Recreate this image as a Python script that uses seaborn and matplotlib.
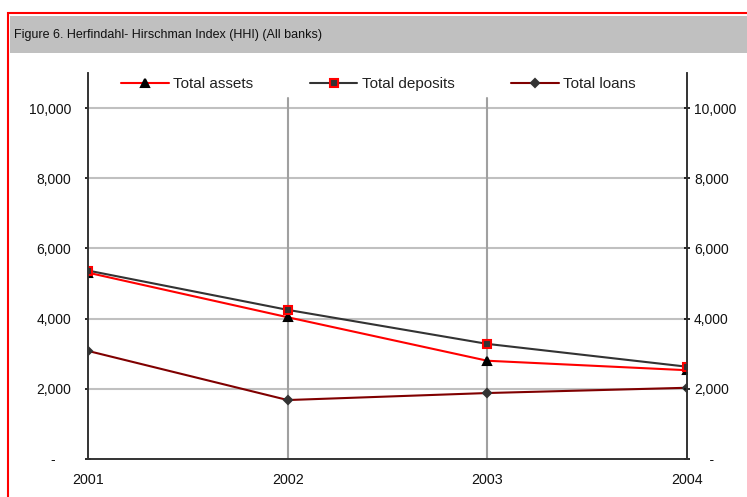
import matplotlib
matplotlib.use("Agg")
import matplotlib.pyplot as plt
from matplotlib.patches import Rectangle
from matplotlib.lines import Line2D
from matplotlib.ticker import FuncFormatter
import seaborn as sns

years = [2001, 2002, 2003, 2004]
total_assets = [5310, 4040, 2800, 2530]
total_deposits = [5370, 4250, 3280, 2630]
total_loans = [3080, 1680, 1880, 2030]
y_ticks = [0, 2000, 4000, 6000, 8000, 10000]

sns.set_theme(style="white")
plt.rcParams["font.family"] = ["Liberation Sans", "DejaVu Sans"]

fig = plt.figure(figsize=(7.47, 4.97), dpi=100)
W, H = 747, 497

# frame and title band
fig.patches.append(Rectangle((8 / W, -0.05), 1.2, 1 - 13 / H + 0.05,
                             transform=fig.transFigure, fill=False,
                             edgecolor="#ff0000", linewidth=1.5))
fig.patches.append(Rectangle((10 / W, 1 - 53 / H), 1.0, 37 / H,
                             transform=fig.transFigure, facecolor="#c0c0c0",
                             edgecolor="none"))
fig.text(14 / W, 1 - 35 / H, "Figure 6. Herfindahl- Hirschman Index (HHI) (All banks)",
         fontsize=9.0, va="center", ha="left", color="#111111")

ax = fig.add_axes([88 / W, 1 - 459 / H, (687 - 88) / W, (459 - 73) / H])

series = [
    (total_assets, "Total assets", "#ff0000", "^", "#000000", "#000000", 5.5),
    (total_deposits, "Total deposits", "#333333", "s", "#333333", "#ff0000", 5.5),
    (total_loans, "Total loans", "#800000", "D", "#333333", "#333333", 4.5),
]
handles = []
for vals, label, color, mk, mfc, mec, ms in series:
    sns.lineplot(x=years, y=vals, ax=ax, color=color, linewidth=1.5,
                 marker=mk, markersize=ms, markerfacecolor=mfc,
                 markeredgecolor=mec, markeredgewidth=1.5, zorder=3)
    handles.append(Line2D([], [], color=color, linewidth=1.5, marker=mk,
                          markersize=ms, markerfacecolor=mfc,
                          markeredgecolor=mec, markeredgewidth=1.5, label=label))

ax.set_xlim(2001, 2004)
ax.set_ylim(0, 11000)
ax.set_xticks(years)
ax.set_xticklabels([str(y) for y in years])
ax.set_yticks(y_ticks)
ax.yaxis.set_major_formatter(
    FuncFormatter(lambda v, p: "-    " if v == 0 else f"{int(v):,}"))
ax.tick_params(axis="y", labelsize=10, colors="#111111", left=True, right=False,
               length=4, direction="inout", pad=10)
ax.tick_params(axis="x", labelsize=10.3, colors="#111111", length=4,
               direction="inout", pad=8)

# right-hand value axis, same scale
ax2 = ax.twinx()
ax2.set_ylim(ax.get_ylim())
ax2.set_yticks(y_ticks)
ax2.yaxis.set_major_formatter(
    FuncFormatter(lambda v, p: "    -" if v == 0 else f"{int(v):,}"))
ax2.tick_params(axis="y", labelsize=10, colors="#111111", length=4,
                direction="inout", pad=3)
ax2.grid(False)

# gridlines
for v in y_ticks[1:]:
    ax.axhline(v, color="#c0c0c0", linewidth=1.5, zorder=1)
for yr in years[1:-1]:
    ax.axvline(yr, ymax=10290 / 11000, color="#a0a0a0", linewidth=1.5, zorder=1)

for a in (ax, ax2):
    a.spines["top"].set_visible(False)
    for side in ["left", "right", "bottom"]:
        a.spines[side].set_visible(True)
        a.spines[side].set_color("#333333")
        a.spines[side].set_linewidth(1.2)

ax.legend(handles=handles, loc="center", bbox_to_anchor=(0.485, 0.9715),
          ncol=3, frameon=False, fontsize=11, handlelength=3.1,
          columnspacing=3.7, handletextpad=0.3, labelcolor="#222222")

fig.savefig("out.png", dpi=100)
